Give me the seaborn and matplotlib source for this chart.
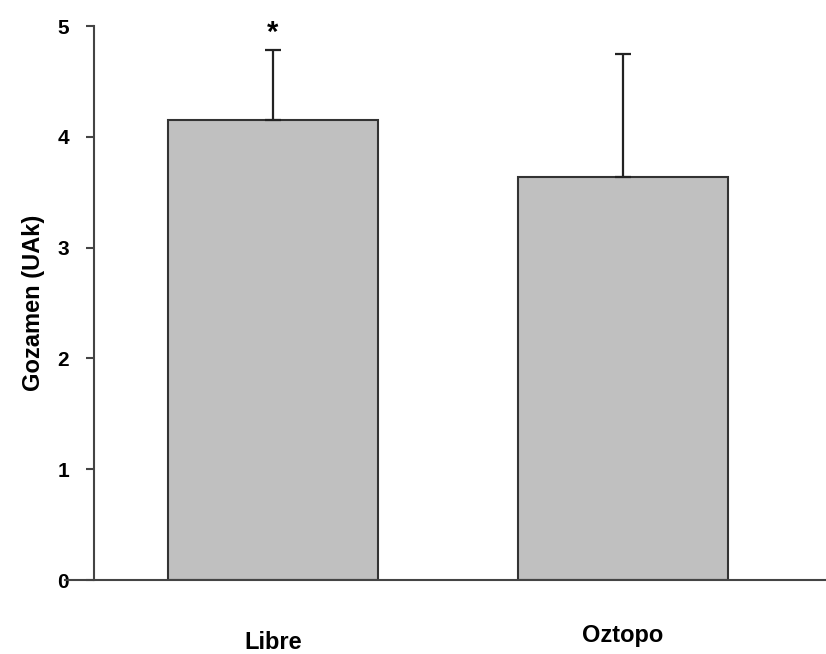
import matplotlib
matplotlib.use('Agg')
import matplotlib.pyplot as plt
import pandas as pd
import seaborn as sns

# Data
groups = ['Libre', 'Oztopo']
means = [4.15, 3.64]
sem_up = [0.63, 1.11]
marks = ['*', '']

df = pd.DataFrame({'group': groups, 'value': means})

sns.set_style('white')
plt.rcParams['font.family'] = ['Liberation Sans', 'DejaVu Sans']
plt.rcParams['font.weight'] = 'bold'
plt.rcParams['text.color'] = 'black'
plt.rcParams['axes.labelcolor'] = 'black'
plt.rcParams['xtick.labelcolor'] = 'black'
plt.rcParams['ytick.labelcolor'] = 'black'

fig = plt.figure(figsize=(8.26, 6.54), dpi=100)
ax = fig.add_axes([65 / 826, 74 / 654, 761 / 826, 554 / 654])

sns.barplot(data=df, x='group', y='value', ax=ax, color='#c0c0c0',
            saturation=1, width=0.6, edgecolor='#333333', linewidth=1.5,
            errorbar=None)

# one-sided error bars
ax.errorbar(range(len(groups)), means, yerr=[[0] * len(groups), sem_up],
            fmt='none', ecolor='#222222', elinewidth=1.6, capsize=6,
            capthick=1.6, zorder=3)

for i, m in enumerate(marks):
    if m:
        ax.text(i, means[i] + sem_up[i] + 0.03, m, ha='center', va='bottom',
                fontsize=21, fontweight='bold', color='black')

ax.set_xlim(-0.594, 1.58)
ax.set_ylim(0, 5)
ax.set_yticks([0, 1, 2, 3, 4, 5])
ax.set_xticks(range(len(groups)))
ax.set_xticklabels(groups)
ax.tick_params(axis='x', length=0, labelsize=17, labelcolor='black')
ax.tick_params(axis='y', length=6, width=1.5, color='#444444', direction='out',
               left=True, pad=12, labelsize=15, labelcolor='black')
for lab in ax.get_xticklabels() + ax.get_yticklabels():
    lab.set_fontweight('bold')
# the two category labels sit at slightly different heights in the original
for tick, p in zip(ax.xaxis.get_major_ticks(), [37, 32]):
    tick.set_pad(p)

ax.set_xlabel('')
ax.set_ylabel('Gozamen (UAk)', fontsize=17, fontweight='bold', labelpad=9,
              color='black')

for s in ['top', 'right']:
    ax.spines[s].set_visible(False)
ax.spines['left'].set_position(('data', -0.511))
for s in ['left', 'bottom']:
    ax.spines[s].set_color('#444444')
    ax.spines[s].set_linewidth(1.5)

fig.savefig('out.png', dpi=100)
